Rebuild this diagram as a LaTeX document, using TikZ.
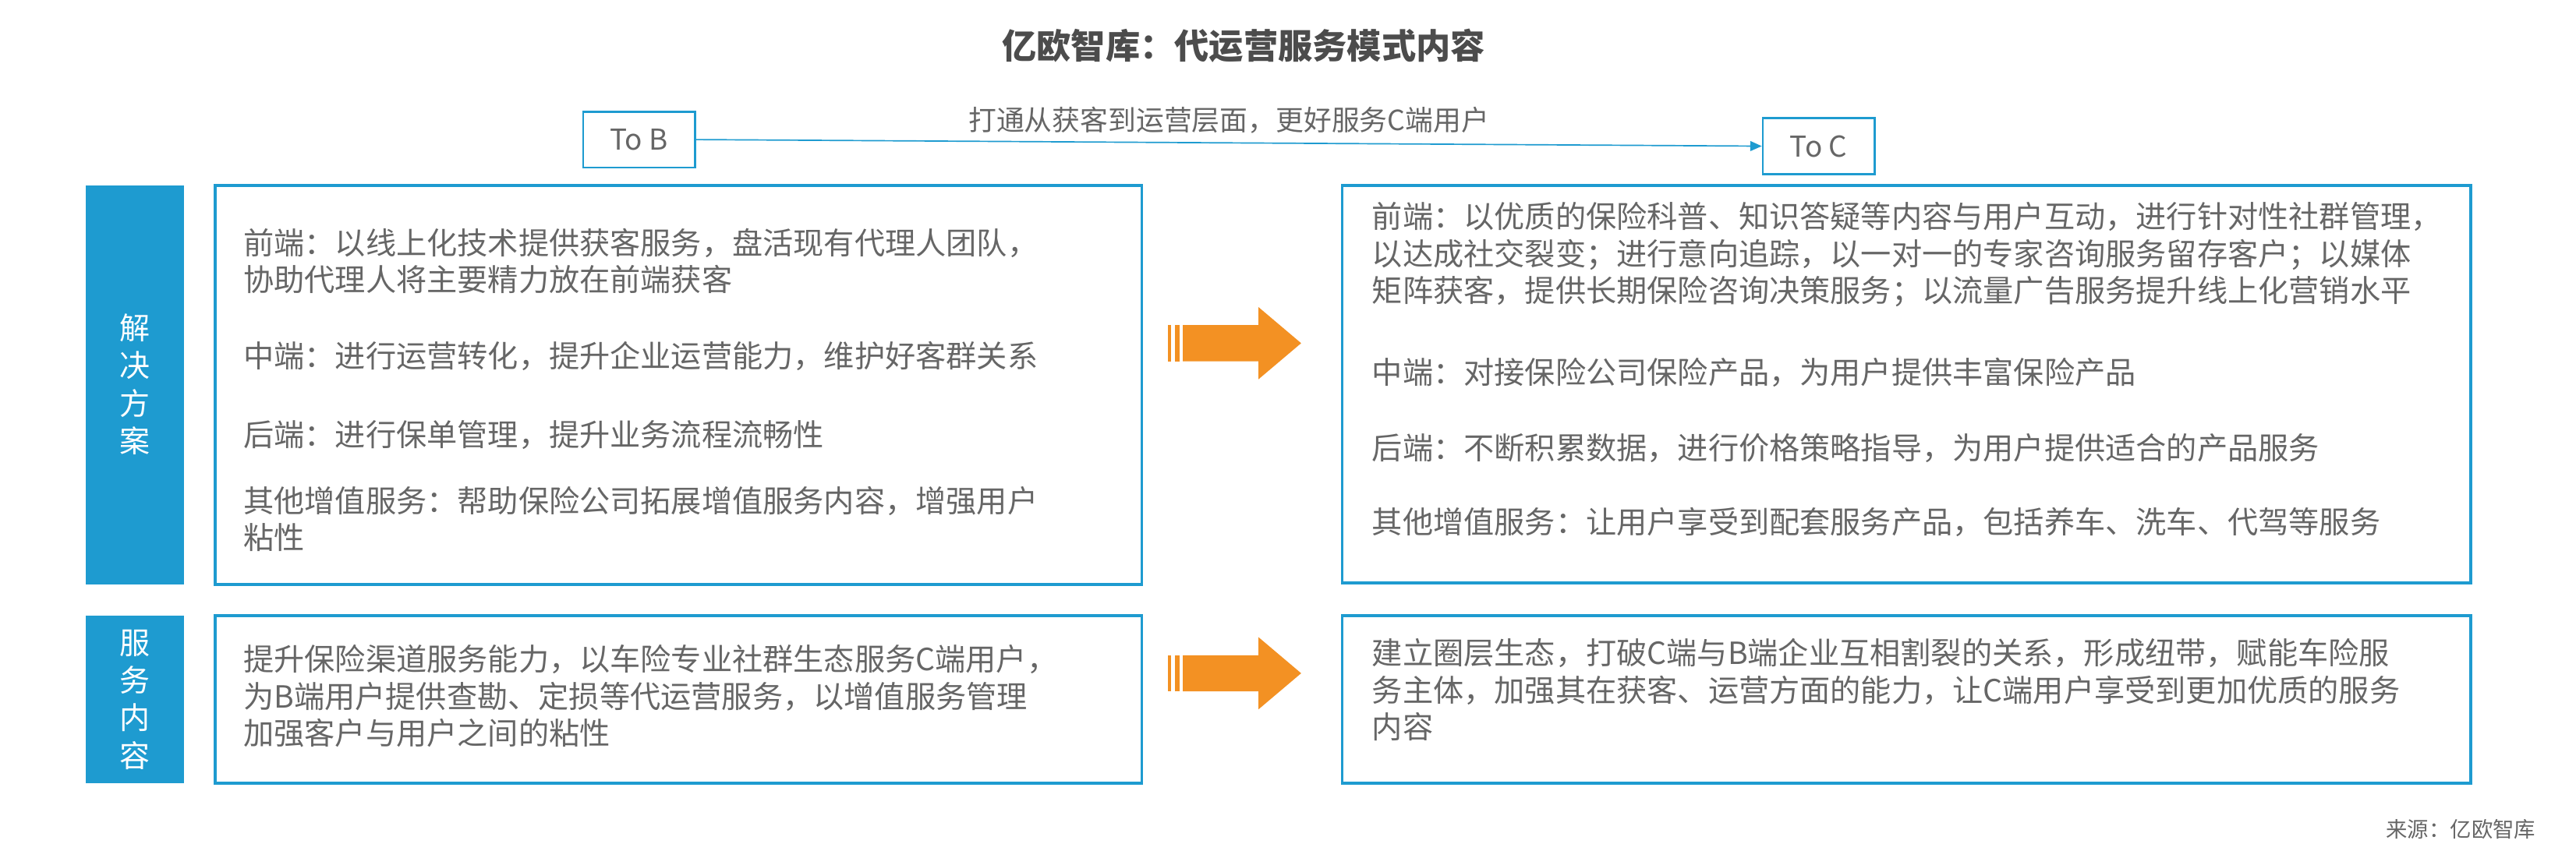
\documentclass[tikz,border=0pt]{standalone}
\usepackage{fontspec}
\setmainfont{Noto Sans CJK SC}
\usetikzlibrary{arrows.meta}
\definecolor{bl}{HTML}{1E9BD0}
\definecolor{tx}{HTML}{666666}
\definecolor{org}{HTML}{F39123}
\begin{document}
\begin{tikzpicture}[x=1pt,y=-1pt,
  box/.style={draw=bl,line width=1.8pt},
  bar/.style={fill=bl},
  body/.style={text=tx,font=\fontsize{18.6}{22.5}\selectfont,align=left,anchor=west,inner sep=0},
  tag/.style={draw=bl,line width=1.2pt,text=tx,font=\fontsize{17.5}{20}\selectfont,minimum width=68pt,minimum height=34pt,inner sep=0},
  vt/.style={text=white,font=\fontsize{18.5}{23}\selectfont,align=center,inner sep=0}]
\useasboundingbox (0,0) rectangle (1568,518);
\node[text=black!70,font=\fontsize{21}{24}\selectfont\bfseries] (title) at (757,28) {亿欧智库：代运营服务模式内容};
\node[tag] (tob) at (389,85) {To B};
\node[tag] (toc) at (1107,89) {To C};
\draw[bl,line width=0.8pt,-{Triangle[length=7pt,width=6pt]}] (tob.east) -- (toc.west) node[midway,above=2pt,text=tx,font=\fontsize{17}{20}\selectfont]{打通从获客到运营层面，更好服务C端用户};
% bars
\fill[bar] (52,113) rectangle (112,356);
\node[vt] (v1) at (82,234) {解\\决\\方\\案};
\fill[bar] (52,375) rectangle (112,477);
\node[vt] (v2) at (82,426) {服\\务\\内\\容};
% boxes
\draw[box] (131,113) rectangle (695,356);
\draw[box] (817,113) rectangle (1504,355);
\draw[box] (131,375) rectangle (695,477);
\draw[box] (817,375) rectangle (1504,477);
% left texts
\node[body] (a1) at (148,159) {前端：以线上化技术提供获客服务，盘活现有代理人团队，\\协助代理人将主要精力放在前端获客};
\node[body] (a2) at (148,217) {中端：进行运营转化，提升企业运营能力，维护好客群关系};
\node[body] (a3) at (148,265) {后端：进行保单管理，提升业务流程流畅性};
\node[body] (a4) at (148,316) {其他增值服务：帮助保险公司拓展增值服务内容，增强用户\\粘性};
\node[body] (b1) at (835,155) {前端：以优质的保险科普、知识答疑等内容与用户互动，进行针对性社群管理，\\以达成社交裂变；进行意向追踪，以一对一的专家咨询服务留存客户；以媒体\\矩阵获客，提供长期保险咨询决策服务；以流量广告服务提升线上化营销水平};
\node[body] (b2) at (835,227) {中端：对接保险公司保险产品，为用户提供丰富保险产品};
\node[body] (b3) at (835,273) {后端：不断积累数据，进行价格策略指导，为用户提供适合的产品服务};
\node[body] (b4) at (835,318) {其他增值服务：让用户享受到配套服务产品，包括养车、洗车、代驾等服务};
\node[body] (c1) at (148,424) {提升保险渠道服务能力，以车险专业社群生态服务C端用户，\\为B端用户提供查勘、定损等代运营服务，以增值服务管理\\加强客户与用户之间的粘性};
\node[body] (d1) at (835,420) {建立圈层生态，打破C端与B端企业互相割裂的关系，形成纽带，赋能车险服\\务主体，加强其在获客、运营方面的能力，让C端用户享受到更加优质的服务\\内容};
% orange arrows
\foreach \cy in {209,410}{
  \fill[org] (711,\cy-11) rectangle (713,\cy+11);
  \fill[org] (715,\cy-11) rectangle (718,\cy+11);
  \fill[org] (720,\cy-11) -- (766,\cy-11) -- (766,\cy-22) -- (792,\cy) -- (766,\cy+22) -- (766,\cy+11) -- (720,\cy+11) -- cycle;
}
\node[text=tx,font=\fontsize{13}{15}\selectfont\itshape,anchor=east] (src) at (1547,505) {来源：亿欧智库};
\end{tikzpicture}
\end{document}
